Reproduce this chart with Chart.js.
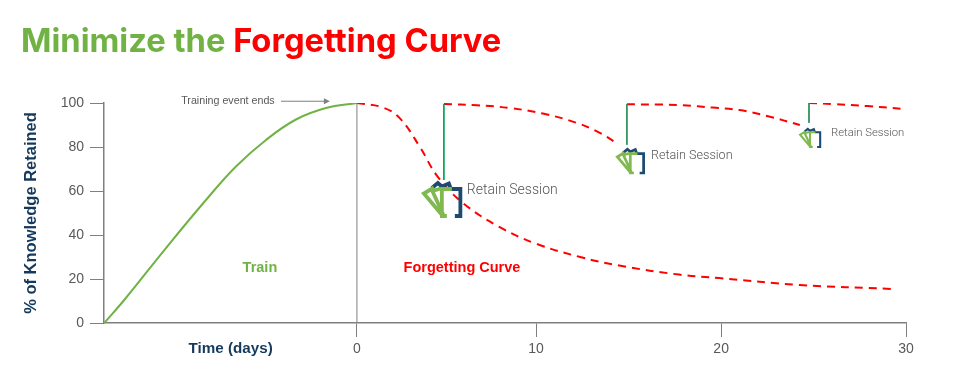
<!DOCTYPE html>
<html>
<head>
<meta charset="utf-8">
<style>
  html, body { margin: 0; padding: 0; background: #fff; width: 960px; height: 377px; overflow: hidden; }
  #title { position: absolute; left: 21px; top: 20px; margin: 0; font: 700 32.7px Inter, "Liberation Sans", sans-serif; white-space: nowrap; }
  #title .train { color: #70b244; }
  #title .forget { color: #ff0000; }
  #wrap { position: absolute; left: 0; top: 0; width: 960px; height: 377px; }
</style>
<script src="https://cdn.jsdelivr.net/npm/chart.js@4"></script>
</head>
<body>
<div id="wrap"><canvas id="curveChart" width="960" height="377"></canvas></div>
<h1 id="title"><span class="train">Minimize the</span> <span class="forget">Forgetting Curve</span></h1>
<script>
// x is days relative to the end of the training event, y is % retained
// the picture's ticks are not evenly spaced, so each label keeps its own spot
const xTickSpots = [0, 9.79, 19.9, 30];
const xTickLabels = ['0', '10', '20', '30'];
const yTickValues = [0, 20, 40, 60, 80, 100];

const trainDays = [-13.81, -12.68, -10.49, -8.25, -6.61, -4.97, -3.33, -1.69, 0];
const trainValues = [0, 10.8, 33.5, 55.9, 71.1, 83.2, 92.5, 97.7, 100];

const forgetDays = [0, 1.4, 2.35, 3.44, 4.42, 5.8, 7.8, 9.8, 12.2, 14.4, 17.6, 19.8, 24.2, 29.2];
const forgetValues = [100, 98, 93, 80, 66.4, 54.5, 43.6, 36, 30, 26, 22, 20.4, 17.3, 15.5];

const retain1Days = [4.75, 6.56, 8.36, 10.16, 12, 13.27, 14.15];
const retain1Values = [99.5, 99, 97.7, 95.2, 91, 86.4, 82];
const retain2Days = [14.75, 16.4, 17.8, 19.45, 20.9, 22.4, 24.2];
const retain2Values = [99.4, 99.3, 99, 97.9, 96.8, 94.1, 90];
const retain3Days = [24.7, 26, 27.9, 29.7];
const retain3Values = [100, 99.5, 98.6, 97.4];

const sessionDays = [4.75, 14.75, 24.7];
const sessionTops = [99.5, 99.4, 100];
const sessionBottoms = [65, 81, 91];
const sessionLabel = 'Retain Session';

function pts(xs, ys) {
  return xs.map((x, i) => ({ x: x, y: ys[i] }));
}

function curve(data, color, dash) {
  return {
    data: data,
    borderColor: color,
    borderWidth: 2,
    borderDash: dash || [],
    pointRadius: 0,
    tension: 0.4,
    fill: false
  };
}

function rule(x, y0, y1, color) {
  return {
    data: [{ x: x, y: y0 }, { x: x, y: y1 }],
    borderColor: color,
    borderWidth: 1,
    pointRadius: 0,
    tension: 0
  };
}

// one stack-of-cards icon, drawn in a 40x36 box then scaled
function drawIcon(ctx, left, top, scale) {
  ctx.save();
  ctx.translate(left, top);
  ctx.scale(scale, scale);
  ctx.lineWidth = 3.8;
  ctx.lineJoin = 'miter';
  // back sheets and bracket
  ctx.strokeStyle = '#1c4a70';
  ctx.beginPath();
  ctx.moveTo(10, 7); ctx.lineTo(16, 2); ctx.lineTo(20, 5.5); ctx.lineTo(27, 2.5); ctx.lineTo(29, 8);
  ctx.moveTo(29, 8); ctx.lineTo(38.5, 8); ctx.lineTo(38.5, 35); ctx.lineTo(33, 35);
  ctx.stroke();
  // green fan
  ctx.strokeStyle = '#7fb94f';
  ctx.beginPath();
  ctx.moveTo(12, 6.5); ctx.lineTo(2, 12.5); ctx.lineTo(21, 35);
  ctx.moveTo(19, 7.5); ctx.lineTo(10.5, 10); ctx.lineTo(22, 35);
  ctx.moveTo(30, 8); ctx.lineTo(20, 8); ctx.lineTo(20, 35); ctx.lineTo(25, 35);
  ctx.stroke();
  ctx.restore();
}

const annotations = {
  id: 'annotations',
  afterDatasetsDraw(chart) {
    const ctx = chart.ctx;
    const xs = chart.scales.x;
    const ys = chart.scales.y;
    ctx.save();
    ctx.textBaseline = 'middle';

    ctx.fillStyle = '#70b244';
    ctx.font = 'bold 14.5px "Liberation Sans"';
    ctx.textAlign = 'center';
    ctx.fillText('Train', xs.getPixelForValue(-5.3), ys.getPixelForValue(25.2));

    ctx.fillStyle = '#ff0000';
    ctx.fillText('Forgetting Curve', xs.getPixelForValue(5.74), ys.getPixelForValue(25.2));

    ctx.fillStyle = '#14395b';
    ctx.font = 'bold 15.2px "Liberation Sans"';
    ctx.fillText('Time (days)', xs.getPixelForValue(-6.9), chart.chartArea.bottom + 26);

    ctx.fillStyle = '#595959';
    ctx.font = '10.7px "Liberation Sans"';
    ctx.textAlign = 'left';
    const labelY = ys.getPixelForValue(100.8);
    ctx.fillText('Training event ends', xs.getPixelForValue(-9.6), labelY);

    // arrow towards the end of the train curve
    const ax0 = xs.getPixelForValue(-4.15);
    const ax1 = xs.getPixelForValue(-1.48);
    ctx.strokeStyle = '#7f7f7f';
    ctx.lineWidth = 1;
    ctx.beginPath();
    ctx.moveTo(ax0, labelY);
    ctx.lineTo(ax1 - 5, labelY);
    ctx.stroke();
    ctx.fillStyle = '#7f7f7f';
    ctx.beginPath();
    ctx.moveTo(ax1, labelY);
    ctx.lineTo(ax1 - 6, labelY - 3);
    ctx.lineTo(ax1 - 6, labelY + 3);
    ctx.closePath();
    ctx.fill();

    // session icons and labels shrink as retention improves
    const iconScales = [1, 0.72, 0.55];
    const iconShift = [[-22, 1], [-11, 3], [-10, 5]];
    const labelSizes = [14, 12.6, 11.3];
    const labelShift = [[23, 10], [24, 11.5], [22, 10]];
    sessionDays.forEach((d, i) => {
      const px = xs.getPixelForValue(d);
      const py = ys.getPixelForValue(sessionBottoms[i]);
      drawIcon(ctx, px + iconShift[i][0], py + iconShift[i][1], iconScales[i]);
      ctx.fillStyle = '#555555';
      ctx.font = '300 ' + labelSizes[i] + 'px Roboto';
      ctx.textAlign = 'left';
      ctx.fillText(sessionLabel, px + labelShift[i][0], py + labelShift[i][1]);
    });
    ctx.restore();
  }
};

const datasets = [
  rule(0, 0, 100, '#7f7f7f'),
  rule(sessionDays[0], sessionTops[0], sessionBottoms[0], '#00a651'),
  rule(sessionDays[1], sessionTops[1], sessionBottoms[1], '#2f8f55'),
  rule(sessionDays[2], sessionTops[2], sessionBottoms[2], '#2f8f55'),
  curve(pts(trainDays, trainValues), '#70b244'),
  curve(pts(forgetDays, forgetValues), '#ff0000', [8, 6]),
  curve(pts(retain1Days, retain1Values), '#ff0000', [8, 6]),
  curve(pts(retain2Days, retain2Values), '#ff0000', [8, 6]),
  curve(pts(retain3Days, retain3Values), '#ff0000', [8, 6])
];

new Chart(document.getElementById('curveChart').getContext('2d'), {
  type: 'line',
  data: { datasets: datasets },
  plugins: [annotations],
  options: {
    responsive: false,
    animation: false,
    layout: { padding: { left: 22, right: 54, top: 103, bottom: 0 } },
    plugins: { legend: { display: false }, tooltip: { enabled: false }, title: { display: false } },
    scales: {
      x: {
        type: 'linear',
        min: -13.82,
        max: 30,
        afterBuildTicks(axis) { axis.ticks = xTickSpots.map(v => ({ value: v })); },
        afterFit(axis) { axis.height = 54; },
        border: { color: '#7f7f7f', width: 1.5 },
        grid: { drawOnChartArea: false, drawTicks: true, tickLength: 14, color: '#7f7f7f' },
        ticks: {
          callback(value) { return xTickLabels[xTickSpots.indexOf(value)]; },
          color: '#595959',
          font: { family: '"Liberation Sans"', size: 14 },
          padding: 4,
          maxRotation: 0,
          autoSkip: false
        }
      },
      y: {
        min: 0,
        max: 100,
        afterBuildTicks(axis) { axis.ticks = yTickValues.map(v => ({ value: v })); },
        afterFit(axis) { axis.width = 82; },
        border: { color: '#7f7f7f', width: 1.5 },
        grid: { drawOnChartArea: false, drawTicks: true, tickLength: 14, color: '#7f7f7f' },
        ticks: { color: '#595959', font: { family: '"Liberation Sans"', size: 14 }, padding: 6 },
        title: {
          display: true,
          text: '% of Knowledge Retained',
          color: '#14395b',
          font: { family: '"Liberation Sans"', size: 16.5, weight: 'bold' },
          padding: { top: 0, bottom: 6 }
        }
      }
    }
  }
});
</script>
</body>
</html>
